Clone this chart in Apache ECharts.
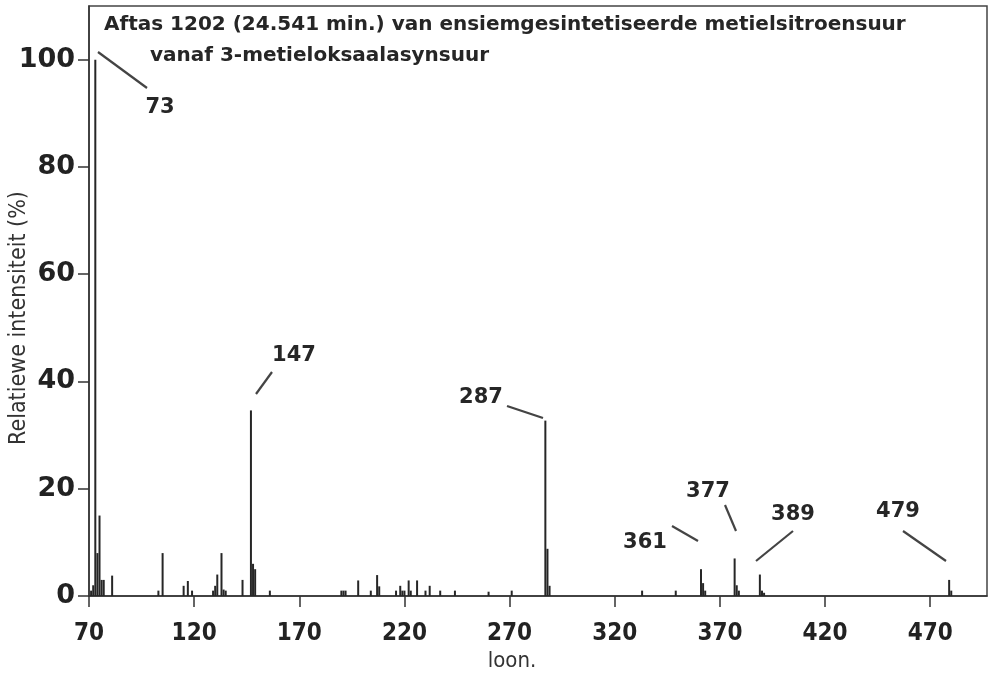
<!DOCTYPE html>
<html>
<head>
<meta charset="utf-8">
<script src="https://cdn.jsdelivr.net/npm/echarts@6/dist/echarts.min.js"></script>
<style>
html,body{margin:0;padding:0;background:#fff;}
#chart{width:989px;height:677px;}
</style>
</head>
<body>
<div id="chart"></div>
<script>
// m/z values (ions) and relative intensities (%)
var ionMz = [71, 72, 73, 74, 75, 76, 77, 81, 103, 105, 115, 117, 119, 129, 130, 131, 133, 134, 135, 143,
  147, 148, 149, 156, 190, 191, 192, 198, 204, 207, 208, 216, 218, 219, 220, 222, 223, 226, 230, 232,
  237, 244, 260, 271, 287, 288, 289, 333, 349, 361, 362, 363, 377, 378, 379, 389, 390, 391, 479, 480];
var intensity = [1, 2, 100, 8, 15, 3, 3, 3.8, 1, 8, 1.9, 2.8, 1, 1, 1.9, 4, 8, 1.2, 1, 3,
  34.6, 6, 5, 1, 1, 1, 1, 2.9, 1, 3.9, 1.8, 1, 1.9, 1, 1, 2.9, 1, 2.9, 1, 1.9,
  1, 1, 0.8, 1, 32.7, 8.8, 1.9, 1, 1, 5, 2.4, 1, 7, 2, 1, 4, 1, 0.6, 3, 1];
var xTicks = [70, 120, 170, 220, 270, 320, 370, 420, 470];
var yTicks = [0, 20, 40, 60, 80, 100];
var labeledPeaks = [73, 147, 287, 361, 377, 389, 479];
var titleLines = ['Aftas 1202 (24.541 min.) van ensiemgesintetiseerde metielsitroensuur', 'vanaf 3-metieloksaalasynsuur'];
var xName = 'loon.';
var yName = 'Relatiewe intensiteit (%)';

// annotation layout (pixels): label centre and leader line
var annLayout = {
  73:  {lx: 160, ly: 108, line: [98, 52, 147, 88]},
  147: {lx: 294, ly: 356, line: [272, 372, 256, 394]},
  287: {lx: 481, ly: 398, line: [507, 406, 543, 418]},
  361: {lx: 645, ly: 543, line: [672, 526, 698, 541]},
  377: {lx: 708, ly: 492, line: [725, 505, 736, 531]},
  389: {lx: 793, ly: 515, line: [793, 531, 756, 561]},
  479: {lx: 898, ly: 512, line: [903, 531, 946, 561]}
};
var titlePos = [[104, 25], [150, 56]];

var ink = '#262626';
var data = ionMz.map(function (m, i) { return [m, intensity[i]]; });

var graphics = [];
titleLines.forEach(function (t, i) {
  graphics.push({type: 'text', silent: true, x: titlePos[i][0], y: titlePos[i][1],
    style: {text: t, x: 0, y: 0, font: 'bold 20px "DejaVu Sans"', fill: ink, textAlign: 'left', textVerticalAlign: 'middle'}});
});
labeledPeaks.forEach(function (p) {
  var a = annLayout[p];
  graphics.push({type: 'text', silent: true, x: a.lx, y: a.ly,
    style: {text: String(p), x: 0, y: 0, font: 'bold 21px "DejaVu Sans"', fill: ink, textAlign: 'center', textVerticalAlign: 'middle'}});
  graphics.push({type: 'line', silent: true,
    shape: {x1: a.line[0], y1: a.line[1], x2: a.line[2], y2: a.line[3]},
    style: {stroke: '#444', lineWidth: 2.2}});
});
graphics.push({type: 'text', silent: true, x: 19, y: 318, rotation: Math.PI / 2,
  style: {text: yName, x: 0, y: 0, font: '23px "DejaVu Sans Condensed", "DejaVu Sans"', fill: '#333', textAlign: 'center', textVerticalAlign: 'middle'}});
graphics.push({type: 'text', silent: true, x: 512, y: 661,
  style: {text: xName, x: 0, y: 0, font: '22px "DejaVu Sans Condensed", "DejaVu Sans"', fill: '#333', textAlign: 'center', textVerticalAlign: 'middle'}});

var chart = echarts.init(document.getElementById('chart'), null, {renderer: 'canvas'});
chart.setOption({
  animation: false,
  backgroundColor: '#fff',
  grid: {left: 89, right: 2, top: 6, bottom: 81, show: true, borderColor: '#444', borderWidth: 1.5, backgroundColor: 'transparent'},
  xAxis: {
    type: 'value', min: 70, max: 497,
    axisLine: {show: true, onZero: false, lineStyle: {color: '#333', width: 1.5}},
    axisTick: {show: true, length: 11, lineStyle: {color: '#333', width: 1.5}, customValues: xTicks},
    axisLabel: {customValues: xTicks, margin: 26, color: '#222', fontFamily: '"DejaVu Sans Condensed", "DejaVu Sans"', fontWeight: 'bold', fontSize: 24},
    splitLine: {show: false}
  },
  yAxis: {
    type: 'value', min: 0, max: 110,
    axisLine: {show: true, lineStyle: {color: '#333', width: 1.5}},
    axisTick: {show: true, length: 11, lineStyle: {color: '#333', width: 1.5}, customValues: yTicks},
    axisLabel: {customValues: yTicks, margin: 14, color: '#222', fontFamily: '"DejaVu Sans"', fontWeight: 'bold', fontSize: 27},
    splitLine: {show: false}
  },
  series: [{
    type: 'bar', data: data, barWidth: 2,
    itemStyle: {color: ink}, silent: true
  }],
  graphic: graphics
});
</script>
</body>
</html>
